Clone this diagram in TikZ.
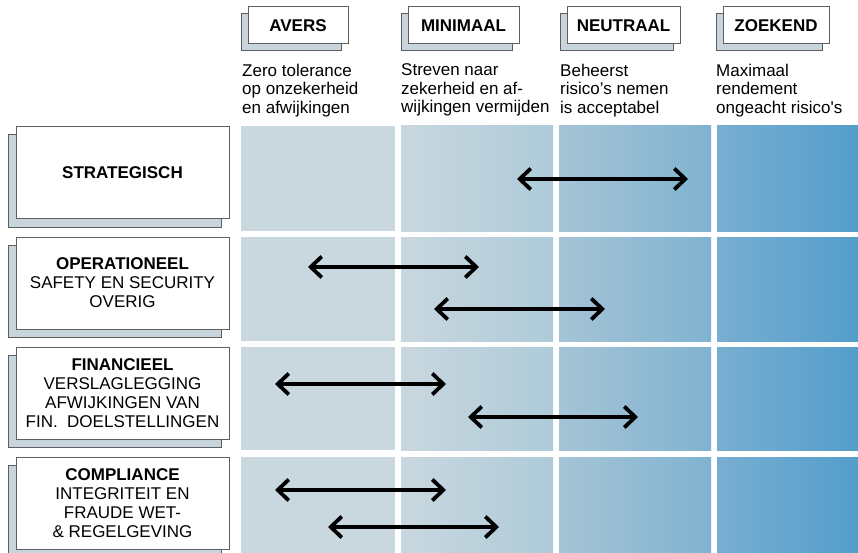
\documentclass[tikz,border=0pt]{standalone}
\usepackage{fontspec}
\setmainfont{Liberation Sans}
\usetikzlibrary{arrows.meta,shadows}
\definecolor{cA}{HTML}{C9D7DF}
\definecolor{cB}{HTML}{AECBD9}
\definecolor{cC}{HTML}{A5C4D6}
\definecolor{cD}{HTML}{80B3D1}
\definecolor{cE}{HTML}{78AED1}
\definecolor{cF}{HTML}{539ECB}
\definecolor{shadowc}{HTML}{C8D5DC}
\definecolor{edgec}{HTML}{5E5E5E}
\begin{document}
\begin{tikzpicture}[x=1pt,y=-1pt,
  cardbase/.style={draw=edgec, line width=1pt, fill=white, inner sep=0pt, align=center},
  headcard/.style={cardbase, minimum height=37pt,
    font=\fontsize{17}{18}\selectfont\bfseries,
    copy shadow={shadow xshift=-7pt, shadow yshift=-7pt, fill=shadowc, draw=edgec}},
  rowcard/.style={cardbase, minimum width=213pt, minimum height=92pt,
    font=\fontsize{17}{19}\selectfont,
    copy shadow={shadow xshift=-8pt, shadow yshift=-8pt, fill=shadowc, draw=edgec}},
  desc/.style={anchor=north west, align=left, inner sep=0pt,
    font=\fontsize{17}{18.5}\selectfont},
  twoway/.style={line width=3.8pt,
    {Straight Barb[length=11pt,width=21pt]}-{Straight Barb[length=11pt,width=21pt]}}
]
\useasboundingbox (0,0) rectangle (858,553);
\clip (0,0) rectangle (858,553);

% grid cells
\foreach \t/\b in {126/231,237/341,347/450,457/553}{
  \fill[cA] (241,\t) rectangle (395,\b);
  \shade[left color=cA,middle color=cA!68!cB,right color=cB] (401,\t) rectangle (553,\b);
  \shade[left color=cC,right color=cD] (559,\t) rectangle (711,\b);
  \shade[left color=cE,right color=cF] (717,\t) rectangle (858,\b);
}

% column headers
\node[headcard, minimum width=100pt] (avers) at (298,25.5) {AVERS};
\node[headcard, minimum width=111pt] (minimaal) at (463.5,25.5) {MINIMAAL};
\node[headcard, minimum width=113pt] (neutraal) at (623.5,25.5) {NEUTRAAL};
\node[headcard, minimum width=106pt] (zoekend) at (776,25.5) {ZOEKEND};

% column descriptions
\node[desc] (davers) at (242,63.5) {Zero tolerance\\op onzekerheid\\en afwijkingen};
\node[desc] (dminimaal) at (401,63.5) {Streven naar\\zekerheid en af-\\wijkingen vermijden};
\node[desc] (dneutraal) at (560,63.5) {Beheerst\\risico’s nemen\\is acceptabel};
\node[desc] (dzoekend) at (716,63.5) {Maximaal\\rendement\\ongeacht risico\textquotesingle s};

% row labels
\node[rowcard] (strat) at (122.5,173) {\textbf{STRATEGISCH}};
\node[rowcard] (oper) at (122.5,283) {\textbf{OPERATIONEEL}\\SAFETY EN SECURITY\\OVERIG};
\node[rowcard] (fin) at (122.5,393) {\textbf{FINANCIEEL}\\VERSLAGLEGGING\\AFWIJKINGEN VAN\\FIN.\ \ DOELSTELLINGEN};
\node[rowcard] (comp) at (122.5,503) {\textbf{COMPLIANCE}\\INTEGRITEIT EN\\FRAUDE WET-\\\&\ REGELGEVING};

% range arrows
\coordinate (s1) at (517,179); \coordinate (e1) at (688,179);
\coordinate (s2) at (308,267); \coordinate (e2) at (479,267);
\coordinate (s3) at (434,309); \coordinate (e3) at (605,309);
\coordinate (s4) at (275,384); \coordinate (e4) at (446,384);
\coordinate (s5) at (468,417); \coordinate (e5) at (638,417);
\coordinate (s6) at (275,490); \coordinate (e6) at (446,490);
\coordinate (s7) at (328,527); \coordinate (e7) at (499,527);
\foreach \i in {1,...,7}{\draw[twoway] (s\i) -- (e\i);}
\end{tikzpicture}
\end{document}
